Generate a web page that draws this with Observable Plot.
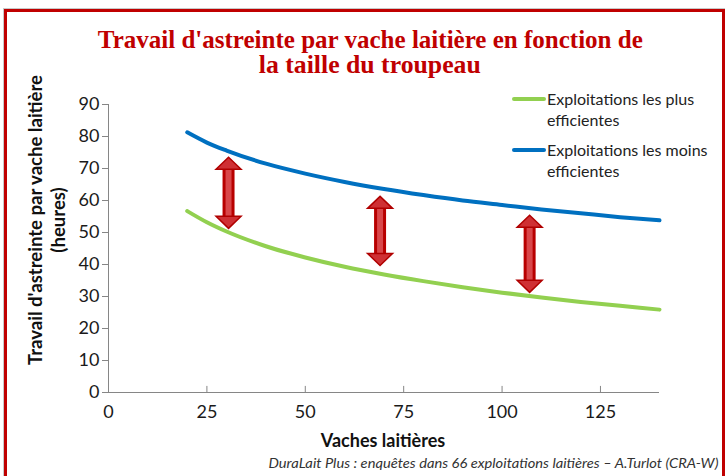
<!DOCTYPE html>
<html><head><meta charset="utf-8">
<script src="https://cdn.jsdelivr.net/npm/d3@7"></script>
<script src="https://cdn.jsdelivr.net/npm/@observablehq/plot@0.6"></script>
<style>
body{margin:0;background:#fff;}
#wrap{position:relative;width:725px;height:476px;overflow:hidden;background:#fff;font-family:Lato,"Open Sans",sans-serif;color:#111;}
#frame{position:absolute;left:4px;top:9px;width:721px;height:480px;border:3px solid #c00000;border-bottom:none;box-sizing:border-box;box-shadow:0 0 0 1px #c8c8c8;}
#chart{position:absolute;left:0;top:0;}
.abs{position:absolute;white-space:nowrap;}
.title{font-family:"Liberation Serif","DejaVu Serif",serif;font-weight:bold;color:#c00000;font-size:25px;line-height:25px;transform-origin:center center;}
.leg{font-size:16px;line-height:21px;color:#222;}
.sw{position:absolute;height:4px;border-radius:2px;}
</style></head>
<body>
<div id="wrap">
  <div id="chart"></div>
  <div id="frame"></div>
  <div class="abs title" id="t1" style="top:27px;">Travail d'astreinte par vache laitière en fonction de</div>
  <div class="abs title" id="t2" style="top:52px;">la taille du troupeau</div>
  <div class="abs" id="ylab" style="font-weight:bold;font-size:18px;line-height:23px;text-align:center;">Travail d'astreinte par vache laitière<br>(heures)</div>
  <div class="abs" id="xlab" style="font-weight:bold;font-size:18px;top:429px;">Vaches laitières</div>
  <div class="abs" id="cap" style="font-style:italic;font-size:14px;top:454px;color:#333;transform-origin:right center;">DuraLait Plus : enquêtes dans 66 exploitations laitières – A.Turlot (CRA-W)</div>
  <div class="sw" style="left:512px;top:97px;width:34px;background:#92d050;"></div>
  <div class="abs leg" style="left:547px;top:88px;">Exploitations les plus<br>efficientes</div>
  <div class="sw" style="left:512px;top:148px;width:34px;background:#0070c0;"></div>
  <div class="abs leg" style="left:547px;top:139px;">Exploitations les moins<br>efficientes</div>
</div>
<script>
// Data
const cows = [20, 25, 30, 40, 50, 60, 70, 80, 90, 100, 110, 120, 130, 140];
const plusEfficient = [56.7, 53.2, 50.3, 45.7, 42.2, 39.3, 36.9, 34.8, 32.9, 31.2, 29.7, 28.3, 27.1, 25.9];
const moinsEfficient = [81.3, 78.1, 75.6, 71.5, 68.4, 65.8, 63.6, 61.7, 60.0, 58.6, 57.2, 56.0, 54.8, 53.8];
const xTicks = [0, 25, 50, 75, 100, 125];
const yTicks = [0, 10, 20, 30, 40, 50, 60, 70, 80, 90];
const arrowX = [30.5, 69, 107];
const arrowTop = [73.5, 61.3, 55.4];
const arrowBottom = [51.3, 39.7, 31.3];

const plusData = cows.map((c, i) => ({x: c, y: plusEfficient[i]}));
const moinsData = cows.map((c, i) => ({x: c, y: moinsEfficient[i]}));
const arrows = arrowX.map((x, i) => ({x, top: arrowTop[i], bottom: arrowBottom[i]}));

const headUp = {draw(ctx) { ctx.moveTo(0, 0); ctx.lineTo(12.5, 12); ctx.lineTo(-12.5, 12); ctx.closePath(); }};
const headDown = {draw(ctx) { ctx.moveTo(0, 0); ctx.lineTo(12.5, -12); ctx.lineTo(-12.5, -12); ctx.closePath(); }};

const axisGray = "#868686";
const chart = Plot.plot({
  width: 725, height: 476,
  marginLeft: 108, marginRight: 66, marginTop: 104, marginBottom: 84,
  style: {fontFamily: "Lato, 'Open Sans', sans-serif", color: "#1a1a1a", background: "transparent"},
  x: {domain: [0, 140]},
  y: {domain: [0, 90]},
  marks: [
    Plot.ruleX([0], {stroke: axisGray, y1: 0, y2: 90}),
    Plot.ruleY([0], {stroke: axisGray, x1: 0, x2: 140}),
    Plot.ruleX(xTicks.filter(d => d > 0), {x: d => d, y1: 0, y2: 1.9, stroke: axisGray}),
    Plot.axisY(yTicks, {tickSize: 6, tickPadding: 3, fontSize: 18, stroke: axisGray, fill: "#1a1a1a", label: null}),
    Plot.axisX(xTicks, {tickSize: 0, tickPadding: 13, fontSize: 18, fill: "#1a1a1a", label: null}),
    Plot.line(moinsData, {x: "x", y: "y", stroke: "#0070c0", strokeWidth: 4, curve: "monotone-x"}),
    Plot.line(plusData, {x: "x", y: "y", stroke: "#92d050", strokeWidth: 4, curve: "monotone-x"}),
    Plot.ruleX(arrows, {x: "x", y1: "top", y2: "bottom", stroke: "#b80000", strokeWidth: 12, insetTop: 8, insetBottom: 8}),
    Plot.ruleX(arrows, {x: "x", y1: "top", y2: "bottom", stroke: "#d9474a", strokeWidth: 6, insetTop: 10, insetBottom: 10}),
    Plot.dot(arrows, {x: "x", y: "top", symbol: headUp, fill: "#cf3034", stroke: "#b00000", strokeWidth: 1.5}),
    Plot.dot(arrows, {x: "x", y: "bottom", symbol: headDown, fill: "#cf3034", stroke: "#b00000", strokeWidth: 1.5})
  ]
});
document.getElementById("chart").appendChild(chart);

function place(id, cx, targetWidth) {
  const el = document.getElementById(id);
  const w = el.getBoundingClientRect().width;
  el.style.left = (cx - w / 2) + "px";
  if (targetWidth) el.style.transform = `scaleX(${targetWidth / w})`;
}
place("t1", 370, 545);
place("t2", 370, 222);
place("xlab", 383);
const cap = document.getElementById("cap");
const cw = cap.getBoundingClientRect().width;
cap.style.left = (718 - cw) + "px";
cap.style.transform = `scaleX(${450 / cw})`;

const yl = document.getElementById("ylab");
const r = yl.getBoundingClientRect();
yl.style.left = (47 - r.width / 2) + "px";
yl.style.top = (220 - r.height / 2) + "px";
yl.style.transform = `rotate(-90deg) scaleX(${290 / r.width})`;
</script>
</body></html>
